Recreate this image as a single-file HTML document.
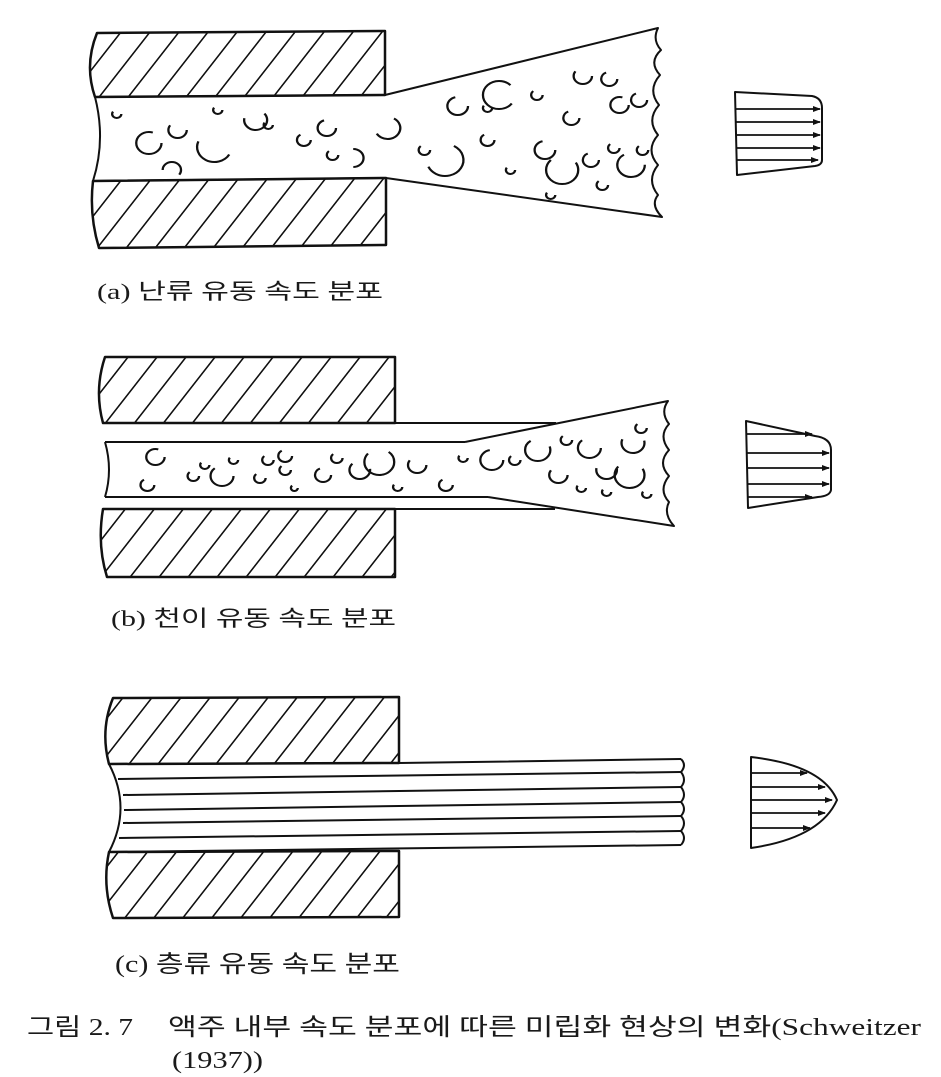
<!DOCTYPE html>
<html><head><meta charset="utf-8"><style>
html,body{margin:0;padding:0;background:#fff;width:941px;height:1077px;overflow:hidden}
svg{position:absolute;left:0;top:0}
.t{font-family:"Liberation Serif","Noto Sans CJK KR",sans-serif;fill:#1a1a1a}
</style></head><body>
<svg width="941" height="1077" viewBox="0 0 941 1077" xmlns="http://www.w3.org/2000/svg">
<defs>
<pattern id="h" width="29" height="60" patternUnits="userSpaceOnUse" patternTransform="skewX(-38)">
<line x1="1" y1="0" x2="1" y2="60" stroke="#111" stroke-width="2"/>
</pattern>
<marker id="ar" markerWidth="8" markerHeight="6" refX="7" refY="3" orient="auto" markerUnits="userSpaceOnUse"><path d="M0,0 L8,3 L0,6 z" fill="#111"/></marker>
</defs>
<g fill="none" stroke="#111" stroke-width="2.5" stroke-linejoin="round">
<!-- (a) -->
<path d="M97,33 L385,31 L385,95 L95,97 Q84,65 97,33 Z" fill="url(#h)"/>
<path d="M93,181 L386,178 L386,245 L99,248 Q89,215 93,181 Z" fill="url(#h)"/>
<path d="M95,97 L385,95 L658,28 Q652,40 661,50 Q648,62 660,75 Q647,90 659,105 Q646,120 658,135 Q645,150 658,165 Q646,180 658,195 Q650,205 662,217 L386,178 L93,181 Q106,140 95,97" stroke-width="2"/>
<!-- (b) -->
<path d="M105,357 L395,357 L395,423 L103,423 Q94,390 105,357 Z" fill="url(#h)"/>
<path d="M103,509 L395,509 L395,577 L107,577 Q97,545 103,509 Z" fill="url(#h)"/>
<g stroke-width="2">
<path d="M103,423 L556,423"/>
<path d="M465,442 L668,401 Q660,412 669,424 Q658,436 669,450 Q657,463 669,476 Q658,490 669,502 Q663,514 674,526 L488,497"/>
<path d="M103,509 L555,509"/>
<path d="M105,442 L465,442"/>
<path d="M105,497 L488,497"/>
<path d="M105,442 Q113,470 105,497"/>
</g>
<!-- (c) -->
<path d="M113,698 L399,697 L399,763 L109,764 Q100,730 113,698 Z" fill="url(#h)"/>
<path d="M109,852 L399,851 L399,917 L113,918 Q102,885 109,852 Z" fill="url(#h)"/>
<g stroke-width="2">
<path d="M109,764 L399,763 L681,759"/>
<path d="M109,852 L681,845"/>
<path d="M109,764 Q132,808 109,852"/>
<path d="M118,779 L681,772"/><path d="M123,795 L681,787"/><path d="M124,810 L681,802"/><path d="M123,823 L681,816"/><path d="M119,838 L681,831"/>
<path d="M681,759 Q687,765 681,772 Q687,780 681,787 Q687,795 681,802 Q687,809 681,816 Q687,823 681,831 Q687,838 681,845"/>
</g>
<!-- profiles -->
<g stroke-width="2">
<path d="M735,92 L812,96 Q822,98 822,108 L822,160 Q822,165 815,166 L737,175 Z"/>
<path d="M746,421 L815,436 Q831,438 831,450 L831,490 Q830,496 818,497 L748,508 Z"/>
<path d="M751,757 L751,848 Q820,838 837,800 Q822,765 751,757 Z"/>
</g>
<g stroke-width="1.8" marker-end="url(#ar)">
<line x1="735" y1="109" x2="820" y2="109"/><line x1="735" y1="122" x2="820" y2="122"/><line x1="736" y1="135" x2="820" y2="135"/><line x1="736" y1="148" x2="820" y2="148"/><line x1="737" y1="160" x2="818" y2="160"/>
<line x1="747" y1="434" x2="812" y2="434"/><line x1="747" y1="453" x2="829" y2="453"/><line x1="747" y1="468" x2="829" y2="468"/><line x1="747" y1="484" x2="829" y2="484"/><line x1="747" y1="497" x2="812" y2="497"/>
<line x1="751" y1="773" x2="807" y2="773"/><line x1="751" y1="787" x2="825" y2="787"/><line x1="751" y1="800" x2="832" y2="800"/><line x1="751" y1="813" x2="825" y2="813"/><line x1="751" y1="828" x2="810" y2="828"/>
</g>
<!-- bubbles (a) -->
<g stroke-width="2" pathLength="100" transform="translate(80,0) scale(1.148,1) translate(-80,0)">
<circle cx="140" cy="143" r="11" stroke-dasharray="55 15"/>
<circle cx="165" cy="130" r="8" stroke-dasharray="30 20"/>
<circle cx="197" cy="147" r="15" stroke-dasharray="45 50" transform="rotate(30 197 147)"/>
<circle cx="233" cy="120" r="10" stroke-dasharray="40 30" transform="rotate(-40 233 120)"/>
<circle cx="160" cy="170" r="8" stroke-dasharray="30 25" transform="rotate(180 160 170)"/>
<circle cx="244" cy="125" r="4" stroke-dasharray="15 15"/>
<circle cx="295" cy="128" r="8" stroke-dasharray="35 20"/>
<circle cx="275" cy="140" r="6" stroke-dasharray="25 15"/>
<circle cx="300" cy="155" r="5" stroke-dasharray="20 15"/>
<circle cx="318" cy="158" r="9" stroke-dasharray="28 30" transform="rotate(-90 318 158)"/>
<circle cx="348" cy="128" r="11" stroke-dasharray="40 35" transform="rotate(-60 348 128)"/>
<circle cx="380" cy="150" r="5" stroke-dasharray="20 15"/>
<circle cx="398" cy="160" r="16" stroke-dasharray="60 40" transform="rotate(-60 398 160)"/>
<circle cx="409" cy="106" r="9" stroke-dasharray="40 25"/>
<circle cx="435" cy="140" r="6" stroke-dasharray="25 15"/>
<circle cx="445" cy="95" r="14" stroke-dasharray="55 20" transform="rotate(90 445 95)"/>
<circle cx="485" cy="150" r="9" stroke-dasharray="40 20"/>
<circle cx="500" cy="170" r="14" stroke-dasharray="55 25"/>
<circle cx="508" cy="118" r="7" stroke-dasharray="30 20"/>
<circle cx="518" cy="76" r="8" stroke-dasharray="30 20"/>
<circle cx="541" cy="79" r="7" stroke-dasharray="30 20"/>
<circle cx="550" cy="105" r="8" stroke-dasharray="40 20"/>
<circle cx="567" cy="100" r="7" stroke-dasharray="30 20"/>
<circle cx="560" cy="165" r="12" stroke-dasharray="50 25"/>
<circle cx="478" cy="95" r="5" stroke-dasharray="20 15"/>
<circle cx="435" cy="108" r="4" stroke-dasharray="15 15"/>
<circle cx="545" cy="148" r="5" stroke-dasharray="20 15"/>
<circle cx="525" cy="160" r="7" stroke-dasharray="30 20"/>
<circle cx="570" cy="150" r="5" stroke-dasharray="20 15"/>
<circle cx="490" cy="195" r="4" stroke-dasharray="15 15"/>
<circle cx="535" cy="185" r="5" stroke-dasharray="20 15"/>
<circle cx="455" cy="170" r="4" stroke-dasharray="15 15"/>
<circle cx="112" cy="114" r="4" stroke-dasharray="15 15"/>
<circle cx="200" cy="110" r="4" stroke-dasharray="15 15"/>
</g>
<!-- bubbles (b) -->
<g stroke-width="2" pathLength="100" transform="translate(90,0) scale(1.148,1) translate(-90,0)">
<circle cx="147" cy="457" r="8" stroke-dasharray="40 20"/><circle cx="140" cy="485" r="6" stroke-dasharray="25 20"/>
<circle cx="180" cy="476" r="5" stroke-dasharray="20 15"/><circle cx="205" cy="476" r="10" stroke-dasharray="40 30"/>
<circle cx="190" cy="465" r="4" stroke-dasharray="15 15"/><circle cx="215" cy="460" r="4" stroke-dasharray="15 15"/>
<circle cx="245" cy="460" r="5" stroke-dasharray="20 15"/><circle cx="238" cy="478" r="5" stroke-dasharray="20 15"/>
<circle cx="260" cy="456" r="6" stroke-dasharray="25 20"/><circle cx="260" cy="470" r="5" stroke-dasharray="20 15"/>
<circle cx="268" cy="488" r="3" stroke-dasharray="12 12"/><circle cx="293" cy="475" r="7" stroke-dasharray="30 20"/>
<circle cx="305" cy="458" r="5" stroke-dasharray="20 15"/><circle cx="325" cy="470" r="9" stroke-dasharray="35 20"/>
<circle cx="342" cy="462" r="13" stroke-dasharray="50 20"/><circle cx="375" cy="465" r="8" stroke-dasharray="30 25"/>
<circle cx="358" cy="487" r="4" stroke-dasharray="15 15"/><circle cx="400" cy="485" r="6" stroke-dasharray="25 15"/>
<circle cx="415" cy="458" r="4" stroke-dasharray="15 15"/><circle cx="440" cy="460" r="10" stroke-dasharray="45 20"/>
<circle cx="460" cy="460" r="5" stroke-dasharray="20 15"/><circle cx="480" cy="450" r="11" stroke-dasharray="45 20"/>
<circle cx="498" cy="475" r="8" stroke-dasharray="30 20"/><circle cx="505" cy="440" r="5" stroke-dasharray="20 15"/>
<circle cx="525" cy="448" r="10" stroke-dasharray="40 25"/><circle cx="540" cy="470" r="9" stroke-dasharray="30 25"/>
<circle cx="560" cy="475" r="13" stroke-dasharray="50 25"/><circle cx="563" cy="443" r="10" stroke-dasharray="35 25"/>
<circle cx="570" cy="428" r="5" stroke-dasharray="20 15"/><circle cx="540" cy="492" r="4" stroke-dasharray="15 15"/>
<circle cx="575" cy="494" r="4" stroke-dasharray="15 15"/><circle cx="518" cy="488" r="4" stroke-dasharray="15 15"/>
</g>
</g>
<text class="t" x="97" y="299" font-size="22" textLength="286" lengthAdjust="spacingAndGlyphs">(a) 난류 유동 속도 분포</text>
<text class="t" x="111" y="626" font-size="22" textLength="285" lengthAdjust="spacingAndGlyphs">(b) 천이 유동 속도 분포</text>
<text class="t" x="115" y="972" font-size="24" textLength="285" lengthAdjust="spacingAndGlyphs">(c) 층류 유동 속도 분포</text>
<text class="t" x="27" y="1035" font-size="24" textLength="106" lengthAdjust="spacingAndGlyphs">그림 2. 7</text>
<text class="t" x="168" y="1035" font-size="24" textLength="753" lengthAdjust="spacingAndGlyphs">액주 내부 속도 분포에 따른 미립화 현상의 변화(Schweitzer</text>
<text class="t" x="172" y="1068" font-size="24" textLength="91" lengthAdjust="spacingAndGlyphs">(1937))</text>
</svg>
</body></html>
